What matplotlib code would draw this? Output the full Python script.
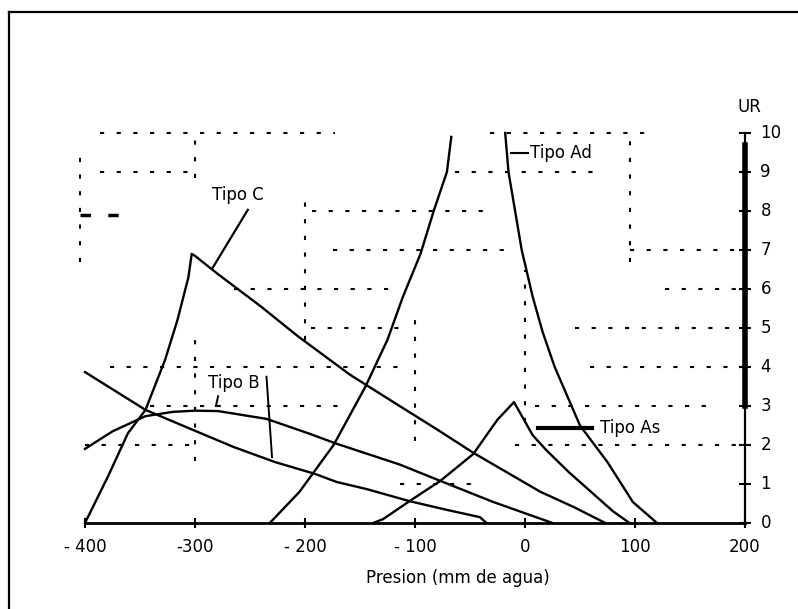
import numpy as np
import matplotlib
matplotlib.use("Agg")
import matplotlib.pyplot as plt
from matplotlib.lines import Line2D

# curves (pressure in mm of water, compliance UR)
tipo_c_x = [-400, -379, -361, -345, -327, -316, -306, -303, -300, -280, -240, -207, -159, -114, -80, -47, 14, 45, 73]
tipo_c_y = [0, 1.2, 2.3, 2.9, 4.2, 5.2, 6.3, 6.9, 6.85, 6.4, 5.55, 4.8, 3.8, 3.0, 2.4, 1.8, 0.8, 0.4, 0]

tipo_b1_x = [-400, -345, -303, -265, -227, -191, -171, -144, -105, -70, -41, -35]
tipo_b1_y = [3.87, 2.9, 2.4, 1.95, 1.56, 1.26, 1.05, 0.87, 0.56, 0.33, 0.15, 0]

tipo_b2_x = [-400, -375, -345, -320, -300, -279, -235, -197, -171, -114, -77, -29, 0, 25]
tipo_b2_y = [1.9, 2.35, 2.74, 2.85, 2.88, 2.87, 2.67, 2.3, 2.03, 1.5, 1.08, 0.54, 0.25, 0]

tipo_as_x = [-138, -129, -105, -77, -47, -25, -10, 7, 20, 40, 60, 80, 95]
tipo_as_y = [0, 0.1, 0.56, 1.08, 1.77, 2.65, 3.1, 2.25, 1.85, 1.3, 0.8, 0.3, 0]

tipo_ad_left_x = [-232, -205, -174, -145, -125, -111, -95, -83, -71, -67]
tipo_ad_left_y = [0, 0.8, 2.0, 3.5, 4.7, 5.8, 6.9, 8.0, 9.0, 9.9]
tipo_ad_right_x = [-18, -15, -9, -3, 7, 16, 27, 50, 75, 98, 120]
tipo_ad_right_y = [10, 9, 8, 7, 5.8, 4.9, 4.0, 2.5, 1.56, 0.54, 0]

x_ticks = [-400, -300, -200, -100, 0, 100, 200]
x_labels = ["- 400", "-300", "- 200", "- 100", "0", "100", "200"]
y_ticks = list(range(0, 11))

# fragments of the dotted grid that survived the scan
grid_h = [(10, -386, -173), (10, -32, 118), (9, -386, -300), (9, -64, 73),
          (8, -194, -32), (7, -175, -14), (7, 95, 200), (6, -265, -114),
          (6, 127, 200), (5, -195, -114), (5, 45, 200), (4, -377, -114),
          (4, 59, 200), (3, -341, -164), (3, 9, 168), (2, -400, -305),
          (2, -9, 200), (1, -114, -41)]
grid_v = [(-405, 6.7, 9.4), (-300, 8.85, 9.9), (-300, 1.6, 4.9), (-200, 4.7, 8.5),
          (-100, 2.1, 5.5), (0, 2.6, 6.5), (95, 6.7, 9.8)]

fig = plt.figure(figsize=(7.98, 6.09), dpi=100)
ax = fig.add_axes([85 / 798, (609 - 523) / 609, 660 / 798, 390 / 609])
ax.set_xlim(-400, 200)
ax.set_ylim(0, 10)
ax.axis("off")

# outer frame (only left and top edges are inside the picture)
fig.add_artist(Line2D([9 / 798, 9 / 798], [0, 1 - 12 / 609], color="black", lw=1.6))
fig.add_artist(Line2D([9 / 798, 1], [1 - 12 / 609, 1 - 12 / 609], color="black", lw=1.6))

dots = (0, (2, 6))
for y, x0, x1 in grid_h:
    ax.plot([x0, x1], [y, y], color="black", lw=1.5, ls=dots, clip_on=False)
for x, y0, y1 in grid_v:
    ax.plot([x, x], [y0, y1], color="black", lw=1.5, ls=dots, clip_on=False)
ax.plot([-405, -368], [7.9, 7.9], color="black", lw=2.5, ls=(0, (3, 5)), clip_on=False)

# curves
for xs, ys in [(tipo_c_x, tipo_c_y), (tipo_b1_x, tipo_b1_y), (tipo_b2_x, tipo_b2_y),
               (tipo_as_x, tipo_as_y), (tipo_ad_left_x, tipo_ad_left_y),
               (tipo_ad_right_x, tipo_ad_right_y)]:
    ax.plot(xs, ys, color="black", lw=1.7, clip_on=False)

# axes
ax.plot([-400, 200], [0, 0], color="black", lw=2, clip_on=False)
ax.plot(x_ticks, [0] * len(x_ticks), ls="none", marker="|", ms=7, mew=1.5, color="black", clip_on=False)
ax.plot([200, 200], [0, 10], color="black", lw=1.6, clip_on=False)
ax.plot([200, 200], [3, 9.7], color="black", lw=4, clip_on=False)
ax.plot([200] * len(y_ticks), y_ticks, ls="none", marker="_", ms=8, mew=1.5, color="black", clip_on=False)

font = dict(family="DejaVu Sans", fontsize=12, color="black")
for x, lab in zip(x_ticks, x_labels):
    ax.text(x, -0.62, lab, ha="center", va="center", **font)
for y in y_ticks:
    ax.text(214, y, str(y), ha="left", va="center", **font)
ax.text(193, 10.67, "UR", ha="left", va="center", **font)
ax.text(-61, -1.41, "Presion (mm de agua)", ha="center", va="center", **font)

# labels with pointers
ax.text(-285, 8.4, "Tipo C", ha="left", va="center", **font)
ax.plot([-252, -284], [8.03, 6.54], color="black", lw=1.6)
ax.text(5, 9.49, "Tipo Ad", ha="left", va="center", **font)
ax.plot([-13, 3], [9.49, 9.49], color="black", lw=1.5)
ax.text(68, 2.44, "Tipo As", ha="left", va="center", **font)
ax.plot([12, 61], [2.44, 2.44], color="black", lw=3)
ax.text(-288, 3.59, "Tipo B", ha="left", va="center", **font)
ax.plot([-235, -230], [3.75, 1.69], color="black", lw=1.4)
ax.plot([-279, -281], [3.25, 3.0], color="black", lw=1.4)

fig.savefig("out.png", dpi=100)
